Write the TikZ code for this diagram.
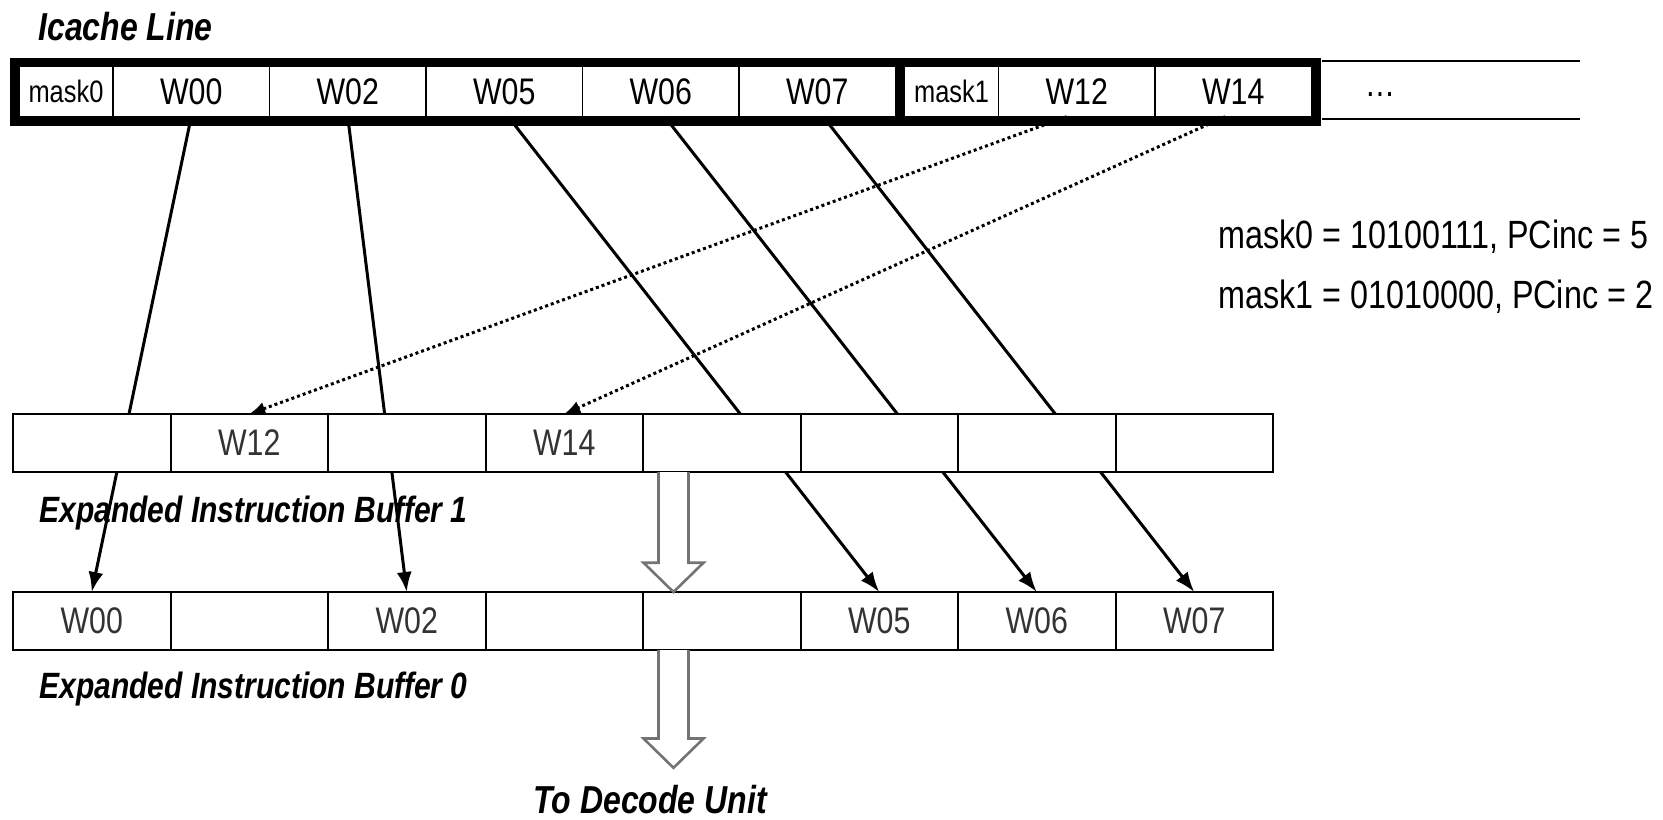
\documentclass[tikz,border=0pt]{standalone}
\usepackage{fontspec}
\setmainfont[FakeStretch=0.82]{Liberation Sans}
\usetikzlibrary{arrows.meta,calc}

\begin{document}
\begin{tikzpicture}[x=0.5pt,y=-0.5pt,>={Latex[length=10pt,width=7.5pt]}]
    \tikzset{
      icell/.style={draw, line width=0.7pt, minimum height=25pt, inner sep=0pt, outer sep=0pt,
        font=\fontsize{18.5}{20}\selectfont},
      wcell/.style={icell, minimum width=78.25pt},
      mcell/.style={icell, minimum width=47pt, font=\fontsize{15.5}{17}\selectfont},
      bcell/.style={draw, fill=white, line width=1pt, minimum width=78.75pt, minimum height=29pt,
        inner sep=0pt, outer sep=0pt, text=black!80, font=\fontsize{18.5}{20}\selectfont},
      frame/.style={line width=4.5pt},
      title/.style={anchor=base west, inner sep=0pt, font=\fontsize{19.5}{21}\selectfont\bfseries\itshape},
      subtitle/.style={title, font=\fontsize{18.3}{20}\selectfont\bfseries\itshape},
      note/.style={anchor=base west, inner sep=0pt, font=\fontsize{19.7}{21}\selectfont},
      move/.style={->, line width=1.5pt},
      fetch/.style={-{Latex[length=8pt,width=6.5pt]}, line width=1.5pt, dash pattern=on 1.5pt off 1.5pt},
      flow/.style={draw=black!55, fill=white, line width=1.3pt, line join=miter}
    }
    \useasboundingbox (0,0) rectangle (1663,819);

    % Icache line
    \node[title] (ictitle) at (38,40) {Icache Line};
    \node[mcell] (mask0) at (66,91.7)      {mask0};
    \node[wcell] (w00)   at (191.25,91.7)  {W00};
    \node[wcell] (w02)   at (347.75,91.7)  {W02};
    \node[wcell] (w05)   at (504.25,91.7)  {W05};
    \node[wcell] (w06)   at (660.75,91.7)  {W06};
    \node[wcell] (w07)   at (817.25,91.7)  {W07};
    \node[mcell] (mask1) at (951.5,91.7)   {mask1};
    \node[wcell] (w12)   at (1076.75,91.7) {W12};
    \node[wcell] (w14)   at (1233.25,91.7) {W14};
    \draw[line width=1pt] (1322,60.5) -- (1580,60.5);
    \draw[line width=1pt] (1322,119) -- (1580,119);
    \node[icell, draw=none] (more) at (1380,95) {…};

    % Buffer 0
    \node[bcell] (b0-0) at (91.75,621)   {W00};
    \node[bcell] (b0-1) at (249.25,621)  {};
    \node[bcell] (b0-2) at (406.75,621)  {W02};
    \node[bcell] (b0-3) at (564.25,621)  {};
    \node[bcell] (b0-4) at (721.75,621)  {};
    \node[bcell] (b0-5) at (879.25,621)  {W05};
    \node[bcell] (b0-6) at (1036.75,621) {W06};
    \node[bcell] (b0-7) at (1194.25,621) {W07};

    % Arrows into buffer 0
    \draw[move] (w00.south) -- (b0-0.north);
    \draw[move] (w02.south) -- (b0-2.north);
    \draw[move] ([xshift=2pt]w05.south) -- (b0-5.north);
    \draw[move] ([xshift=2pt]w06.south) -- (b0-6.north);
    \draw[move] ([xshift=3pt]w07.south) -- (b0-7.north);

    % Thick frame of the line
    \draw[frame] ([shift={(-4.5,-4.5)}]mask0.north west) rectangle ([shift={(4.5,4.5)}]w14.south east);
    \draw[frame] ($(w07.north east)!0.5!(mask1.north west)$) -- ($(w07.south east)!0.5!(mask1.south west)$);

    % Buffer 1
    \node[bcell] (b1-0) at (91.75,443)   {};
    \node[bcell] (b1-1) at (249.25,443)  {W12};
    \node[bcell] (b1-2) at (406.75,443)  {};
    \node[bcell] (b1-3) at (564.25,443)  {W14};
    \node[bcell] (b1-4) at (721.75,443)  {};
    \node[bcell] (b1-5) at (879.25,443)  {};
    \node[bcell] (b1-6) at (1036.75,443) {};
    \node[bcell] (b1-7) at (1194.25,443) {};

    % Arrows into buffer 1
    \draw[fetch] ([xshift=-5pt]w12.south) -- (b1-1.north);
    \draw[fetch] ([xshift=-4pt]w14.south) -- (b1-3.north);

    % Hollow arrows
    \draw[flow] ([xshift=7.75pt]b1-4.south west) -- ++(0,90.7) -- ++(-15,0) -- ++(30,29.3)
      -- ++(30,-29.3) -- ++(-15,0) -- ++(0,-90.7);
    \draw[flow] ([xshift=7.75pt]b0-4.south west) -- ++(0,88.5) -- ++(-15,0) -- ++(30,29.3)
      -- ++(30,-29.3) -- ++(-15,0) -- ++(0,-88.5);

    % Labels
    \node[subtitle] (b1lbl) at (39,522) {Expanded Instruction Buffer 1};
    \node[subtitle] (b0lbl) at (39,698) {Expanded Instruction Buffer 0};
    \node[title] (decode) at (533,813) {To Decode Unit};
    \node[note] (m0note) at (1218,248) {mask0 = 10100111, PCinc = 5};
    \node[note] (m1note) at (1218,308) {mask1 = 01010000, PCinc = 2};

  \end{tikzpicture}
\end{document}
